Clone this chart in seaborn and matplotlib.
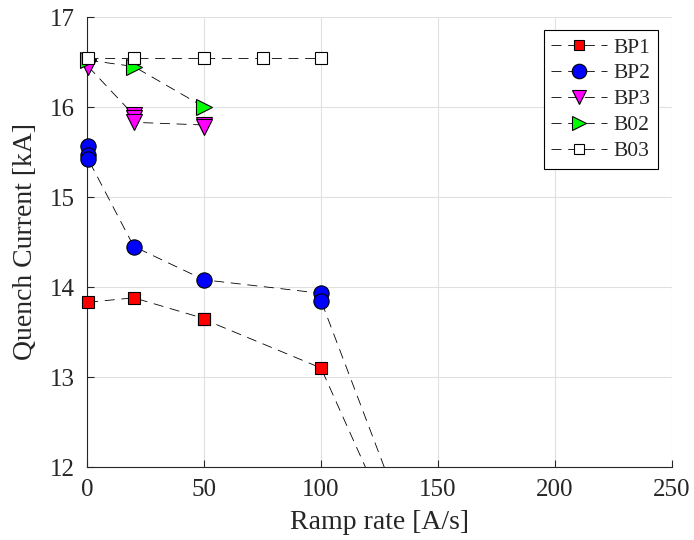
import matplotlib
matplotlib.use("Agg")
import matplotlib.pyplot as plt
import matplotlib.patches as mpatches
import seaborn as sns
import pandas as pd

# Data
bp1_x = [0.5, 20, 50, 50, 100, 200]
bp1_y = [13.83, 13.88, 13.65, 13.64, 13.10, 7.3]
bp2_x = [0.5, 0.5, 0.5, 20, 50, 100, 100, 200]
bp2_y = [15.57, 15.47, 15.42, 14.45, 14.08, 13.93, 13.85, 7.0]
bp3_x = [0.5, 20, 20, 20, 50, 50]
bp3_y = [16.45, 15.91, 15.88, 15.83, 15.80, 15.78]
b02_x = [0.5, 20, 50]
b02_y = [16.52, 16.45, 16.00]
b03_x = [0.5, 20, 50, 75, 100]
b03_y = [16.54, 16.54, 16.54, 16.54, 16.54]

series = [
    ("BP1", bp1_x, bp1_y, "s", "#ff0000", 8),
    ("BP2", bp2_x, bp2_y, "o", "#0000ff", 11),
    ("BP3", bp3_x, bp3_y, "v", "#ff00ff", 11),
    ("B02", b02_x, b02_y, ">", "#00ff00", 11),
    ("B03", b03_x, b03_y, "s", "#ffffff", 8),
]

sns.set_style("white")
plt.rcParams["font.family"] = ["Liberation Serif", "DejaVu Serif"]

fig = plt.figure(figsize=(6.94, 5.40), dpi=100)
ax = fig.add_axes([87/694, 1 - 467/540, (672-87)/694, (467-17)/540])

clip_rect = mpatches.Rectangle((-0.05, 0.0), 1.1, 1.05, transform=ax.transAxes,
                               fill=False, visible=False)
ax.add_patch(clip_rect)

for name, xs, ys, mk, fc, ms in series:
    df = pd.DataFrame({"x": xs, "y": ys})
    sns.lineplot(data=df, x="x", y="y", ax=ax, estimator=None, sort=False,
                 color="k", linestyle=(0, (12, 8)), linewidth=0.6,
                 marker=mk, markersize=ms, markerfacecolor=fc,
                 markeredgecolor="k", markeredgewidth=0.8, label=name)

for ln in ax.lines:
    ln.set_clip_path(clip_rect)
    ln.set_zorder(3)

ax.set_xlim(0, 250)
ax.set_ylim(12, 17)
ax.set_xticks([0, 50, 100, 150, 200, 250])
ax.set_yticks([12, 13, 14, 15, 16, 17])
ax.grid(True, color="#e0e0e0", linewidth=0.8)
ax.set_axisbelow(True)
for s in ["top", "right"]:
    ax.spines[s].set_visible(False)
for s in ["left", "bottom"]:
    ax.spines[s].set_color("#262626")
    ax.spines[s].set_linewidth(0.8)
ax.tick_params(direction="in", length=5, width=0.8, labelsize=18,
               colors="#262626", labelcolor="#262626", left=True, bottom=True)
ax.tick_params(axis="x", pad=9)
ax.tick_params(axis="y", pad=9)
ax.set_xlabel("Ramp rate [A/s]", fontsize=20, color="#262626", labelpad=6)
ax.set_ylabel("Quench Current [kA]", fontsize=20, color="#262626", labelpad=8)

leg = ax.legend(loc="upper right", bbox_to_anchor=(658/694, 1 - 30/540),
                bbox_transform=fig.transFigure, fontsize=15.5,
                frameon=True, fancybox=False, edgecolor="k", framealpha=1,
                handlelength=2.6, handletextpad=0.3, borderpad=0.35,
                labelspacing=0.27, markerscale=0.95, borderaxespad=0)
leg.get_frame().set_linewidth(0.8)

fig.savefig("out.png", dpi=100)
